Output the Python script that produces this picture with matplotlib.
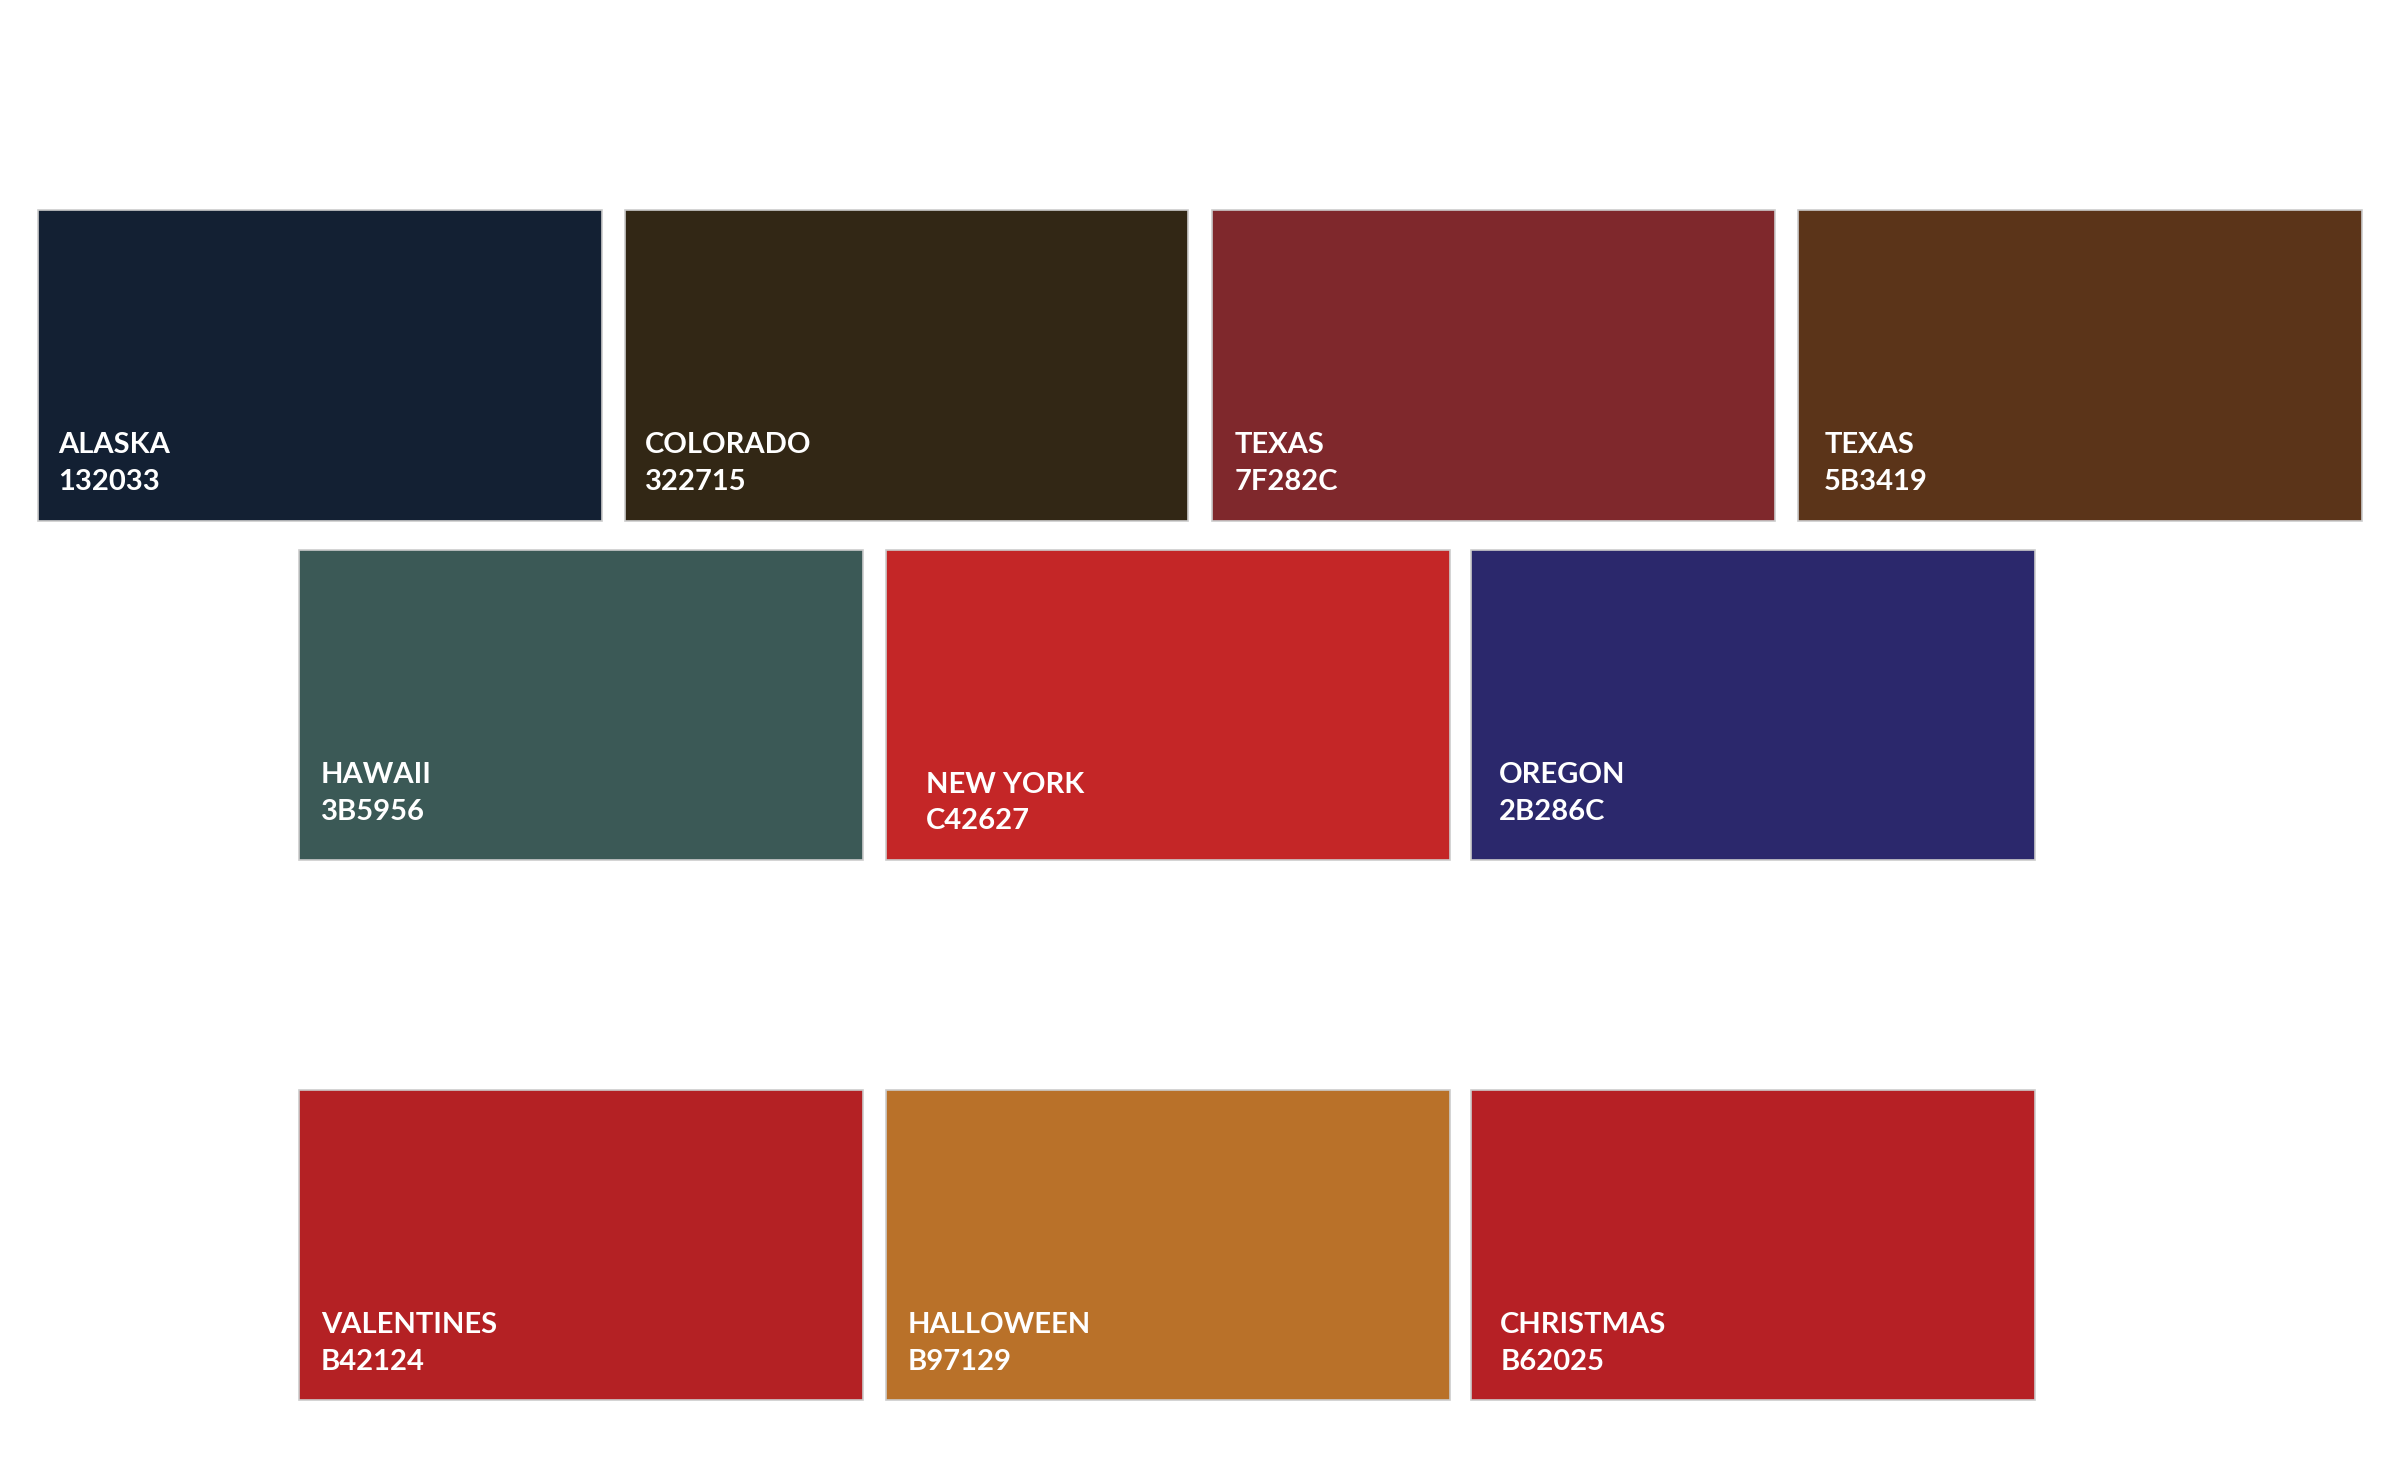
import matplotlib.pyplot as plt
from matplotlib.patches import Rectangle

# swatch data: name, hex code
names = ["ALASKA", "COLORADO", "TEXAS", "TEXAS",
         "HAWAII", "NEW YORK", "OREGON",
         "VALENTINES", "HALLOWEEN", "CHRISTMAS"]
codes = ["132033", "322715", "7F282C", "5B3419",
         "3B5956", "C42627", "2B286C",
         "B42124", "B97129", "B62025"]

# layout in reference-pixel units (1563 x 958 canvas)
W, H = 1563, 958
lefts = [25, 407, 789, 1171, 195, 577, 958, 195, 577, 958]
tops = [137, 137, 137, 137, 358, 358, 358, 710, 710, 710]
text_dx = [13, 13, 15, 17, 14, 26, 18, 14, 14, 19]
text_y = [290, 290, 290, 290, 505, 511, 505, 863, 863, 863]
bw, bh = 367, 202

fig = plt.figure(figsize=(24, 14.71), dpi=100)
ax = fig.add_axes([0, 0, 1, 1])
ax.set_xlim(0, W)
ax.set_ylim(H, 0)
ax.axis("off")

for i, (n, c) in enumerate(zip(names, codes)):
    ax.add_patch(Rectangle((lefts[i], tops[i]), bw, bh, facecolor="#" + c,
                           edgecolor="#cccccc", linewidth=1.2))
    x = lefts[i] + text_dx[i]
    ax.text(x, text_y[i], n, color="white", fontsize=21, fontweight="bold",
            family="Lato", va="center", ha="left")
    ax.text(x, text_y[i] + 24, c, color="white", fontsize=21, fontweight="bold",
            family="Lato", va="center", ha="left")

fig.savefig("out.png", dpi=100, facecolor="white")
